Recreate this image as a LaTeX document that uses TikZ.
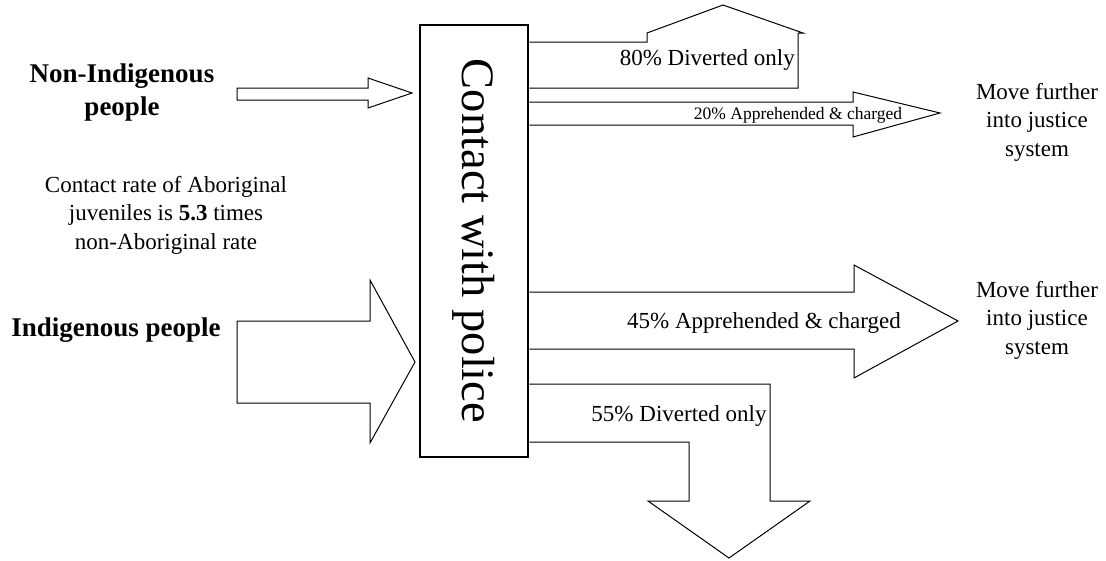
\documentclass[tikz,border=0pt]{standalone}
\usepackage{fontspec}
\setmainfont{Liberation Serif}
\usetikzlibrary{calc}
\tikzset{%
  block arrow/.style={draw=black,line width=1pt,fill=white,line join=miter},
  police box/.style={draw=black,line width=2.5pt,fill=white,inner sep=0pt,
    minimum width=108pt,minimum height=432pt},
  box text/.style={font=\fontsize{46.5}{50}\selectfont,rotate=-90,inner sep=0pt},
  group label/.style={font=\fontsize{27}{33}\selectfont\bfseries,align=center,
    inner sep=0pt},
  note label/.style={font=\fontsize{23}{28.5}\selectfont,align=center,inner sep=0pt},
  flow label/.style={font=\fontsize{23}{28}\selectfont,inner sep=0pt},
  small flow label/.style={font=\fontsize{17.5}{20}\selectfont,inner sep=0pt}
}
\begin{document}
\begin{tikzpicture}[x=1pt,y=-1pt]

%% page size (pixels of the reference)
\useasboundingbox (0,0) rectangle (1106,560);

%% the police box
\node[police box] (police) at (474,241) {};

%% incoming arrows
\draw[block arrow] (237,88) -- (368,88) -- (368,78) -- (412,93)
    -- (368,108) -- (368,100) -- (237,100) -- cycle; % non-indigenous
\draw[block arrow] (237,321) -- (370,321) -- (370,280) -- (415,362)
    -- (370,443) -- (370,403) -- (237,403) -- cycle; % indigenous

%% outgoing arrows
\draw[block arrow] (police.east |- 0,42) -- (647,42) -- (647,33) -- (723,5)
    -- (803,33) -- (798,33) -- (798,88) -- (police.east |- 0,88); % 80% diverted
\draw[block arrow] (police.east |- 0,102) -- (853,102) -- (853,92) -- (940,113)
    -- (853,137) -- (853,125) -- (police.east |- 0,125); % 20% charged
\draw[block arrow] (police.east |- 0,292) -- (854,292) -- (854,265) -- (958,321)
    -- (854,378) -- (854,349) -- (police.east |- 0,349); % 45% charged
\draw[block arrow] (police.east |- 0,384) -- (770,384) -- (770,501) -- (810,501)
    -- (729,558) -- (648,501) -- (689,501) -- (689,442)
    -- (police.east |- 0,442); % 55% diverted

%% box on top of the arrow roots
\node[police box] (policeframe) at (police.center) {};
\node[box text] (contact) at (police.center) {Contact with police};

%% labels on the left
\node[group label] (nonindig) at (122,93) {Non-Indigenous\\people};
\node[note label] (rate) at (166,215) {Contact rate of Aboriginal\\
    juveniles is \textbf{5.3} times\\non-Aboriginal rate};
\node[group label] (indig) at (116,330) {Indigenous people};

%% labels on the arrows
\node[flow label,anchor=base east] (div80) at (795,65) {80\% Diverted only};
\node[small flow label,anchor=base] (app20) at (798,119)
    {20\% Apprehended \& charged};
\node[flow label,anchor=base] (app45) at (764,328) {45\% Apprehended \& charged};
\node[flow label,anchor=base] (div55) at (679,421) {55\% Diverted only};

%% labels on the right
\node[note label] (further1) at (1037,122) {Move further\\into justice\\system};
\node[note label] (further2) at (1037,320) {Move further\\into justice\\system};
\end{tikzpicture}
\end{document}
